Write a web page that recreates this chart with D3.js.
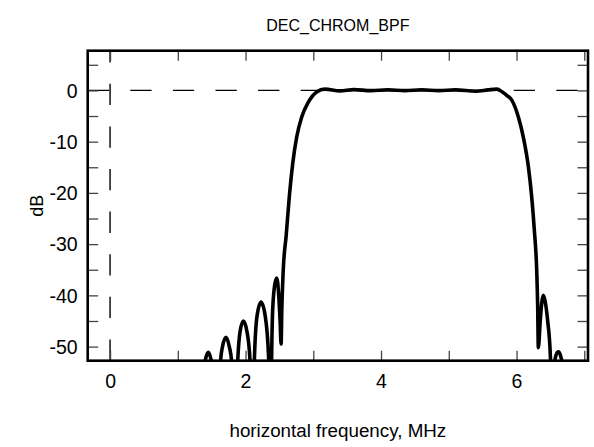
<!DOCTYPE html>
<html>
<head>
<meta charset="utf-8">
<script src="https://cdn.jsdelivr.net/npm/d3@7"></script>
<style>
  html, body { margin: 0; padding: 0; background: #fff; }
  svg { display: block; font-family: "Liberation Sans", Arial, Helvetica, sans-serif; }
</style>
</head>
<body>
<svg id="chart" width="594" height="447"></svg>
<script>
// ---- data ----
const title = "DEC_CHROM_BPF";
const xLabel = "horizontal frequency, MHz";
const yLabel = "dB";
const xTicks = [0, 1, 2, 3, 4, 5, 6, 7];
const xTickLabels = [0, 2, 4, 6];
const yTicks = [5, 0, -5, -10, -15, -20, -25, -30, -35, -40, -45, -50];
const yTickLabels = [0, -10, -20, -30, -40, -50];

// frequency (MHz) and magnitude (dB) of the response
const freq = [
  1.30, 1.37, 1.41, 1.451, 1.49, 1.53, 1.58,
  1.60, 1.63, 1.66, 1.712, 1.76, 1.795, 1.84,
  1.86, 1.885, 1.92, 1.968, 2.02, 2.066, 2.10,
  2.115, 2.13, 2.17, 2.229, 2.29, 2.34, 2.372,
  2.382, 2.40, 2.43, 2.46, 2.49, 2.51, 2.525,
  2.535, 2.556, 2.60, 2.647, 2.696, 2.755, 2.829, 2.927, 3.05,
  3.17, 3.39, 3.60, 3.85, 4.10, 4.35, 4.60, 4.85, 5.10, 5.40, 5.58, 5.71,
  5.79, 5.86, 5.93, 6.027, 6.10, 6.175, 6.224, 6.263, 6.298, 6.312, 6.322,
  6.35, 6.372, 6.396, 6.42, 6.46, 6.50, 6.535,
  6.56, 6.58, 6.617, 6.65, 6.68, 6.72
];
const mag = [
  -75, -56, -52.4, -51.1, -52.5, -56, -75,
  -65, -53, -50, -48.2, -50, -53, -75,
  -62, -52.7, -47, -45, -47, -52.7, -75,
  -60, -52.7, -44, -41.3, -44, -52, -75,
  -56, -43, -38, -36.6, -40, -45, -49.5,
  -43, -35.2, -28.3, -20.6, -14.3, -9.1, -5.2, -2.3, -0.3,
  0.25, -0.1, 0.15, -0.05, 0.1, -0.05, 0.1, -0.05, 0.1, -0.15, 0.1, 0.25,
  -0.3, -1.0, -1.9, -5.2, -9.1, -14.9, -20.8, -27.3, -35.2, -42, -50.2,
  -45, -41.5, -40.0, -41, -45, -52, -70,
  -53.5, -51.8, -51.0, -51.8, -54, -75
];

// ---- layout ----
const svg = d3.select("#chart");
const L = 87.7, R = 588, T = 50.7, B = 360.7;

const x = d3.scaleLinear().domain([-0.33, 7.055]).range([L, R]);
const y = d3.scaleLinear().domain([-52.75, 7.75]).range([B, T]);

svg.append("defs").append("clipPath").attr("id", "clip")
  .append("rect").attr("x", L).attr("y", T).attr("width", R - L).attr("height", B - T);

// reference dashed lines (0 dB and 0 MHz)
svg.append("line")
  .attr("x1", x.range()[0]).attr("x2", x.range()[1])
  .attr("y1", y(0)).attr("y2", y(0))
  .attr("stroke", "#000").attr("stroke-width", 1.4)
  .attr("stroke-dasharray", "21.3,21.3");
svg.append("line")
  .attr("x1", x(0)).attr("x2", x(0))
  .attr("y1", y.range()[0]).attr("y2", y.range()[1])
  .attr("stroke", "#000").attr("stroke-width", 1.4)
  .attr("stroke-dasharray", "21.3,21.3");

// axes (ticks inward)
function styleAxis(g) {
  g.select(".domain").remove();
  g.selectAll(".tick line").attr("stroke", "#444").attr("stroke-width", 1.3);
}
const tickFont = 19.5;
const fmt = d => String(d); // plain hyphen-minus, as in the reference

svg.append("g").attr("transform", `translate(0,${B})`)
  .call(d3.axisBottom(x).tickValues(xTicks).tickSizeInner(-10).tickSizeOuter(0)
    .tickFormat(d => xTickLabels.includes(d) ? fmt(d) : ""))
  .call(styleAxis)
  .call(g => g.selectAll(".tick text").attr("y", 27).attr("dy", 0)
    .attr("font-size", tickFont).attr("fill", "#000")
    .attr("font-family", "Liberation Sans, Arial, sans-serif"));

svg.append("g").attr("transform", `translate(0,${T})`)
  .call(d3.axisTop(x).tickValues(xTicks).tickSizeInner(-10).tickSizeOuter(0).tickFormat(""))
  .call(styleAxis);

svg.append("g").attr("transform", `translate(${L},0)`)
  .call(d3.axisLeft(y).tickValues(yTicks).tickSizeInner(-10.5).tickSizeOuter(0)
    .tickFormat(d => yTickLabels.includes(d) ? fmt(d) : ""))
  .call(styleAxis)
  .call(g => g.selectAll(".tick text").attr("x", -10).attr("dy", "0.35em")
    .attr("font-size", tickFont).attr("fill", "#000")
    .attr("font-family", "Liberation Sans, Arial, sans-serif"));

svg.append("g").attr("transform", `translate(${R},0)`)
  .call(d3.axisRight(y).tickValues(yTicks).tickSizeInner(-10.5).tickSizeOuter(0).tickFormat(""))
  .call(styleAxis);

// response curve
const pts = freq.map((f, i) => [f, mag[i]]);
svg.append("path")
  .datum(pts)
  .attr("clip-path", "url(#clip)")
  .attr("fill", "none")
  .attr("stroke", "#000")
  .attr("stroke-width", 3.6)
  .attr("stroke-linejoin", "round")
  .attr("stroke-linecap", "round")
  .attr("d", d3.line().x(d => x(d[0])).y(d => y(d[1])).curve(d3.curveMonotoneX));

// frame
svg.append("rect")
  .attr("x", L).attr("y", T).attr("width", R - L).attr("height", B - T)
  .attr("fill", "none").attr("stroke", "#000").attr("stroke-width", 2.6);

// titles
svg.append("text").attr("x", (L + R) / 2).attr("y", 31)
  .attr("text-anchor", "middle").attr("font-size", 16).attr("fill", "#000")
  .text(title);
svg.append("text").attr("x", (L + R) / 2).attr("y", 437)
  .attr("text-anchor", "middle").attr("font-size", 18.8).attr("fill", "#000")
  .text(xLabel);
svg.append("text")
  .attr("transform", `translate(37,${(T + B) / 2}) rotate(-90)`)
  .attr("text-anchor", "middle").attr("dy", "0.35em")
  .attr("font-size", 18).attr("fill", "#000")
  .text(yLabel);
</script>
</body>
</html>
